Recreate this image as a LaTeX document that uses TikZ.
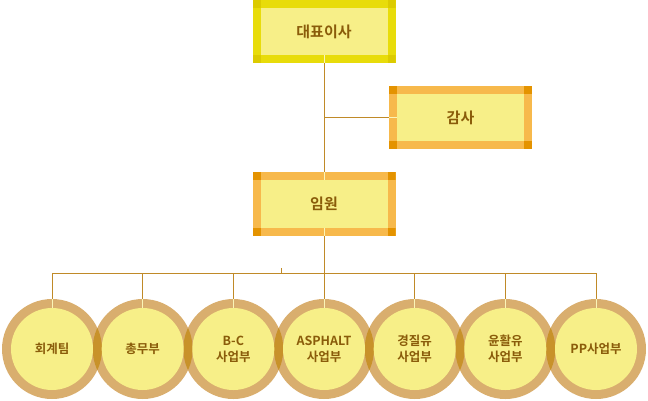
\documentclass[tikz,border=0pt]{standalone}
\usepackage{fontspec}
\newfontfamily\krfont[BoldFont={Noto Sans CJK KR Bold}]{Noto Sans CJK KR}
\usetikzlibrary{positioning,calc}
\definecolor{CeoYellow}{RGB}{232,220,10}
\definecolor{CeoCorner}{RGB}{220,203,0}
\definecolor{BoxOrange}{RGB}{247,185,76}
\definecolor{BoxCorner}{RGB}{228,147,0}
\definecolor{PaleFill}{RGB}{247,239,136}
\definecolor{LineGold}{RGB}{192,138,40}
\definecolor{RingTan}{RGB}{217,174,110}
\definecolor{LensGold}{RGB}{200,146,42}
\definecolor{TextBrown}{RGB}{138,92,10}
\colorlet{PaleLine}{PaleFill!60!white}

\begin{document}
\begin{tikzpicture}[x=1pt,y=-1pt,
    orgbox/.style={minimum width=143pt,minimum height=63pt,inner sep=0pt,
      font=\krfont\bfseries\fontsize{15}{18}\selectfont,text=TextBrown},
    framed/.style 2 args={fill=#1,path picture={
        \fill[#2] (path picture bounding box.north west) rectangle +(8pt,-8pt);
        \fill[#2] (path picture bounding box.north east) rectangle +(-8pt,-8pt);
        \fill[#2] (path picture bounding box.south west) rectangle +(8pt,8pt);
        \fill[#2] (path picture bounding box.south east) rectangle +(-8pt,8pt);
        \fill[PaleFill] ([shift={(8pt,-8pt)}]path picture bounding box.north west)
          rectangle ([shift={(-8pt,8pt)}]path picture bounding box.south east);}},
    ring/.style={circle,fill=RingTan,minimum size=100pt,inner sep=0pt},
    unit/.style={circle,fill=PaleFill,minimum size=82pt,inner sep=0pt,align=center,
      font=\krfont\bfseries\fontsize{12.5}{16}\selectfont,text=TextBrown},
    link/.style={LineGold,line width=1pt},
    gap/.style={PaleLine,line width=0.8pt}
  ]
    \useasboundingbox (0,0) rectangle (648,400);

    % top of the chart
    \node[orgbox,framed={CeoYellow}{CeoCorner}] (ceo) at (324,31.5) {대표이사};
    \node[orgbox,framed={BoxOrange}{BoxCorner}] (audit) at (460.5,117.5) {감사};
    \node[orgbox,framed={BoxOrange}{BoxCorner},minimum height=64pt] (exec) at (324,204) {임원};

    \draw[link] (ceo.south) -- (exec.north);
    \draw[link] (audit.west) -- (audit.west -| exec.north);
    \draw[gap] (ceo.south) -- +(0,-8);
    \draw[gap] (exec.north) -- +(0,8);
    \draw[gap] (exec.south) -- +(0,-8);
    \draw[gap] (audit.west) -- +(8,0);

    % departments
    \foreach \i/\cx in {1/52,2/142.67,3/233.33,4/324,5/414.67,6/505.33,7/596}
      \node[ring] (r\i) at (\cx,349) {};
    \foreach \i [evaluate=\i as \j using int(\i+1)] in {1,...,6} {
      \begin{scope}
        \clip (r\i.center) circle (50pt);
        \fill[LensGold] (r\j.center) circle (50pt);
      \end{scope}
    }
    \node[unit] (u1) at (r1) {회계팀};
    \node[unit] (u2) at (r2) {총무부};
    \node[unit] (u3) at (r3) {B-C\\사업부};
    \node[unit] (u4) at (r4) {ASPHALT\\사업부};
    \node[unit] (u5) at (r5) {경질유\\사업부};
    \node[unit] (u6) at (r6) {윤활유\\사업부};
    \node[unit] (u7) at (r7) {PP사업부};

    \coordinate (busL) at (r1.north |- 0,273);
    \coordinate (busR) at (r7.north |- 0,273);
    \coordinate (tick) at (281,268);
    \draw[link] (exec.south) -- (exec.south |- busL);
    \draw[link] (busL) -- (busR);
    \draw[link] (tick) -- (tick |- busL);
    \foreach \i in {1,...,7} {
      \draw[link] (r\i.north |- busL) -- (r\i.north);
      \draw[gap] (r\i.north) -- (u\i.north);
    }
  \end{tikzpicture}
\end{document}
